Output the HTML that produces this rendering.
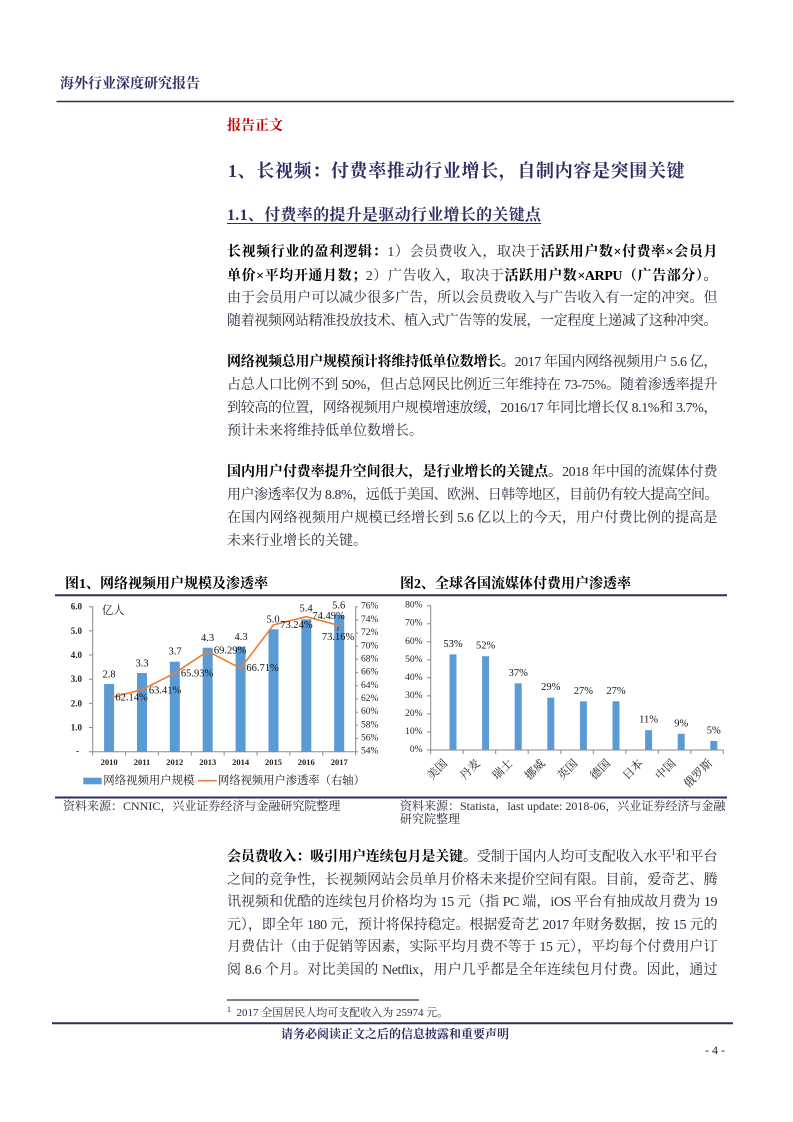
<!DOCTYPE html>
<html><head><meta charset="utf-8">
<style>
html,body{margin:0;padding:0;background:#fff;}
body{width:793px;height:1122px;position:relative;overflow:hidden;font-family:"Liberation Serif","Noto Serif CJK SC",serif;}
.a{position:absolute;white-space:nowrap;}
.ln{position:absolute;left:227px;width:490px;height:20px;line-height:20px;font-size:14px;color:#2b2b3d;white-space:nowrap;text-align:justify;text-align-last:justify;letter-spacing:-0.45px;}
.ln.l{text-align:left;text-align-last:left;letter-spacing:0;}
.ln b{color:#000;font-weight:bold;}
.nv{color:#2e2f62;font-weight:bold;}
sup{font-size:9px;line-height:0;vertical-align:6px;}
svg{position:absolute;left:0;top:0;}
</style></head><body>

<div class="a nv" style="left:60px;top:76px;font-size:14px;line-height:18px;letter-spacing:0px;">海外行业深度研究报告</div>
<div class="a" style="left:227px;top:118px;font-size:14px;line-height:18px;color:#c00000;font-weight:bold;">报告正文</div>
<div class="a nv" style="left:228px;top:160px;font-size:18px;line-height:22px;letter-spacing:0.65px;">1、长视频：付费率推动行业增长，自制内容是突围关键</div>
<div class="a nv" style="left:227px;top:206px;font-size:16px;line-height:20px;letter-spacing:0.3px;text-decoration:underline;text-underline-offset:3px;">1.1、付费率的提升是驱动行业增长的关键点</div>

<div class="ln" style="top:243px;"><b>长视频行业的盈利逻辑：</b>1）会员费收入，取决于<b>活跃用户数×付费率×会员月</b></div>
<div class="ln" style="top:267px;"><b>单价×平均开通月数；</b>2）广告收入，取决于<b>活跃用户数×ARPU（广告部分）。</b></div>
<div class="ln" style="top:289px;">由于会员用户可以减少很多广告，所以会员费收入与广告收入有一定的冲突。但</div>
<div class="ln" style="top:312px;">随着视频网站精准投放技术、植入式广告等的发展，一定程度上递减了这种冲突。</div>

<div class="ln" style="top:353px;"><b>网络视频总用户规模预计将维持低单位数增长。</b>2017 年国内网络视频用户 5.6 亿，</div>
<div class="ln" style="top:376px;">占总人口比例不到 50%，但占总网民比例近三年维持在 73-75%。随着渗透率提升</div>
<div class="ln" style="top:399px;">到较高的位置，网络视频用户规模增速放缓，2016/17 年同比增长仅 8.1%和 3.7%，</div>
<div class="ln l" style="top:422px;">预计未来将维持低单位数增长。</div>

<div class="ln" style="top:463px;"><b>国内用户付费率提升空间很大，是行业增长的关键点。</b>2018 年中国的流媒体付费</div>
<div class="ln" style="top:486px;">用户渗透率仅为 8.8%，远低于美国、欧洲、日韩等地区，目前仍有较大提高空间。</div>
<div class="ln" style="top:509px;">在国内网络视频用户规模已经增长到 5.6 亿以上的今天，用户付费比例的提高是</div>
<div class="ln l" style="top:532px;">未来行业增长的关键。</div>

<div class="a" style="left:65px;top:576px;font-size:14px;line-height:18px;font-weight:bold;color:#000;">图1、网络视频用户规模及渗透率</div>
<div class="a" style="left:400px;top:576px;font-size:14px;line-height:18px;font-weight:bold;color:#000;">图2、全球各国流媒体付费用户渗透率</div>

<div class="a" style="left:63px;top:798px;font-size:12px;line-height:16px;color:#2b2b3d;">资料来源：CNNIC，兴业证券经济与金融研究院整理</div>
<div class="a" style="left:400px;top:798px;font-size:12px;line-height:16px;color:#2b2b3d;">资料来源：Statista，last update: 2018-06，兴业证券经济与金融</div>
<div class="a" style="left:400px;top:811px;font-size:12px;line-height:16px;color:#2b2b3d;">研究院整理</div>

<div class="ln" style="top:848px;"><b>会员费收入：吸引用户连续包月是关键。</b>受制于国内人均可支配收入水平<sup>1</sup>和平台</div>
<div class="ln" style="top:871px;">之间的竞争性，长视频网站会员单月价格未来提价空间有限。目前，爱奇艺、腾</div>
<div class="ln" style="top:893px;">讯视频和优酷的连续包月价格均为 15 元（指 PC 端，iOS 平台有抽成故月费为 19</div>
<div class="ln" style="top:916px;">元），即全年 180 元，预计将保持稳定。根据爱奇艺 2017 年财务数据，按 15 元的</div>
<div class="ln" style="top:938px;">月费估计（由于促销等因素，实际平均月费不等于 15 元），平均每个付费用户订</div>
<div class="ln" style="top:961px;">阅 8.6 个月。对比美国的 Netflix，用户几乎都是全年连续包月付费。因此，通过</div>

<div class="a" style="left:227px;top:1005px;font-size:11px;line-height:16px;color:#2b2b3d;"><sup style="font-size:8px;vertical-align:4px;">1</sup>&nbsp; 2017 全国居民人均可支配收入为 25974 元。</div>

<div class="a nv" style="left:281px;top:1026px;font-size:12px;line-height:16px;">请务必阅读正文之后的信息披露和重要声明</div>
<div class="a" style="left:705px;top:1042px;font-size:12px;line-height:16px;color:#222;">- 4 -</div>

<svg width="793" height="1122" viewBox="0 0 793 1122" xmlns="http://www.w3.org/2000/svg" font-family="Liberation Serif, Noto Serif CJK SC, serif">
  <line x1="56.5" y1="101.5" x2="734" y2="101.5" stroke="#2e2f5e" stroke-width="1.6"/>
  <line x1="55" y1="595.3" x2="727" y2="595.3" stroke="#2e2f5e" stroke-width="2"/>
  <line x1="55" y1="797.5" x2="727" y2="797.5" stroke="#2e2f5e" stroke-width="2"/>
  <line x1="227" y1="1000" x2="419" y2="1000" stroke="#000" stroke-width="1"/>
  <line x1="52" y1="1023.3" x2="733" y2="1023.3" stroke="#2e2f5e" stroke-width="2"/>

  <!-- Chart 1 -->
  <g stroke="#888" stroke-width="1" fill="none">
    <line x1="92.7" y1="606.5" x2="92.7" y2="751.7"/>
    <line x1="355.7" y1="606.5" x2="355.7" y2="751.7"/>
    <line x1="92.7" y1="751.7" x2="355.7" y2="751.7"/>
    <path d="M89 606.7H92.7M89 630.9H92.7M89 655H92.7M89 679.2H92.7M89 703.4H92.7M89 727.5H92.7M89 751.7H92.7"/>
    <path d="M355.7 606.7H358M355.7 619.9H358M355.7 633.1H358M355.7 646.3H358M355.7 659.4H358M355.7 672.6H358M355.7 685.8H358M355.7 699H358M355.7 712.2H358M355.7 725.3H358M355.7 738.5H358M355.7 751.7H358"/>
    <path d="M92.7 751.7V755.5M125.6 751.7V755.5M158.4 751.7V755.5M191.3 751.7V755.5M224.2 751.7V755.5M257.1 751.7V755.5M289.9 751.7V755.5M322.8 751.7V755.5M355.7 751.7V755.5"/>
  </g>
  <g fill="#5b9bd5">
    <rect x="104.1" y="684" width="10" height="67.7"/>
    <rect x="137" y="673" width="10" height="78.7"/>
    <rect x="169.8" y="661.7" width="10" height="90"/>
    <rect x="202.7" y="647.7" width="10" height="104"/>
    <rect x="235.6" y="646.7" width="10" height="105"/>
    <rect x="268.5" y="629.3" width="10" height="122.4"/>
    <rect x="301.3" y="619.3" width="10" height="132.4"/>
    <rect x="334.2" y="615" width="10" height="136.7"/>
  </g>
  <polyline points="109.1,698 142,689.7 174.8,673.1 207.7,651.3 240.6,668.3 273.5,624.9 306.3,616.7 339.2,625.5" fill="none" stroke="#ed7d31" stroke-width="1.6" stroke-linejoin="round"/>
  <line x1="338.5" y1="626.5" x2="337.5" y2="631" stroke="#333" stroke-width="0.8"/>
  <g font-size="9px" font-weight="bold" fill="#222" text-anchor="end" dominant-baseline="central">
    <text x="82" y="606.7">6.0</text><text x="82" y="630.9">5.0</text><text x="82" y="655">4.0</text>
    <text x="82" y="679.2">3.0</text><text x="82" y="703.4">2.0</text><text x="82" y="727.5">1.0</text>
    <text x="79" y="751.2">-</text>
  </g>
  <g font-size="9.5px" fill="#222" dominant-baseline="central">
    <text x="361" y="606.7">76%</text><text x="361" y="619.9">74%</text><text x="361" y="633.1">72%</text>
    <text x="361" y="646.3">70%</text><text x="361" y="659.4">68%</text><text x="361" y="672.6">66%</text>
    <text x="361" y="685.8">64%</text><text x="361" y="699">62%</text><text x="361" y="712.2">60%</text>
    <text x="361" y="725.3">58%</text><text x="361" y="738.5">56%</text><text x="361" y="751.7">54%</text>
  </g>
  <g font-size="8.5px" font-weight="bold" fill="#222" text-anchor="middle" dominant-baseline="central">
    <text x="109.1" y="762">2010</text><text x="142" y="762">2011</text><text x="174.8" y="762">2012</text>
    <text x="207.7" y="762">2013</text><text x="240.6" y="762">2014</text><text x="273.5" y="762">2015</text>
    <text x="306.3" y="762">2016</text><text x="339.2" y="762">2017</text>
  </g>
  <g font-size="10.5px" fill="#111" text-anchor="middle" dominant-baseline="central">
    <text x="109" y="675">2.8</text><text x="142" y="664">3.3</text><text x="175" y="652">3.7</text>
    <text x="207.5" y="638.3">4.3</text><text x="241" y="637.7">4.3</text><text x="273" y="620">5.0</text>
    <text x="306" y="609">5.4</text><text x="338.7" y="606">5.6</text>
    <text x="131.5" y="698">62.14%</text><text x="165" y="691">63.41%</text><text x="197" y="674">65.93%</text>
    <text x="230" y="651">69.29%</text><text x="262.5" y="668.7">66.71%</text><text x="296.4" y="625.7">73.24%</text>
    <text x="328.5" y="616.7">74.49%</text><text x="338" y="637.7">73.16%</text>
  </g>
  <text x="101.7" y="611" font-size="11.5px" fill="#222" dominant-baseline="central">亿人</text>
  <rect x="83.3" y="777.7" width="18.4" height="6.6" fill="#5b9bd5"/>
  <text x="103.3" y="781" font-size="11.4px" fill="#222" dominant-baseline="central">网络视频用户规模</text>
  <line x1="198" y1="780.7" x2="216.7" y2="780.7" stroke="#ed7d31" stroke-width="1.6"/>
  <text x="218" y="781" font-size="11.3px" fill="#222" dominant-baseline="central">网络视频用户渗透率（右轴）</text>

  <!-- Chart 2 -->
  <g stroke="#888" stroke-width="1" fill="none">
    <line x1="430.7" y1="605.5" x2="430.7" y2="750"/>
    <line x1="430.7" y1="750" x2="723.3" y2="750"/>
    <path d="M427 605.7H430.7M427 623.7H430.7M427 641.8H430.7M427 659.8H430.7M427 677.8H430.7M427 695.9H430.7M427 713.9H430.7M427 732H430.7M427 750H430.7"/>
    <path d="M430.7 750V754M463.2 750V754M495.7 750V754M528.2 750V754M560.8 750V754M593.3 750V754M625.8 750V754M658.3 750V754M690.8 750V754M723.3 750V754"/>
  </g>
  <g fill="#5b9bd5">
    <rect x="449.5" y="654.4" width="7" height="95.6"/>
    <rect x="482.1" y="656.2" width="7" height="93.8"/>
    <rect x="514.7" y="683.3" width="7" height="66.7"/>
    <rect x="547.3" y="697.7" width="7" height="52.3"/>
    <rect x="579.9" y="701.3" width="7" height="48.7"/>
    <rect x="612.5" y="701.3" width="7" height="48.7"/>
    <rect x="645.1" y="730.2" width="7" height="19.8"/>
    <rect x="677.7" y="733.8" width="7" height="16.2"/>
    <rect x="710.3" y="741" width="7" height="9"/>
  </g>
  <g font-size="9.5px" fill="#222" text-anchor="end" dominant-baseline="central">
    <text x="422.5" y="605.7">80%</text><text x="422.5" y="623.7">70%</text><text x="422.5" y="641.8">60%</text>
    <text x="422.5" y="659.8">50%</text><text x="422.5" y="677.8">40%</text><text x="422.5" y="695.9">30%</text>
    <text x="422.5" y="713.9">20%</text><text x="422.5" y="732">10%</text><text x="422.5" y="750">0%</text>
  </g>
  <g font-size="10.5px" fill="#111" text-anchor="middle" dominant-baseline="central">
    <text x="453" y="644.4">53%</text><text x="485.6" y="646.2">52%</text><text x="518.2" y="673.3">37%</text>
    <text x="550.8" y="687.7">29%</text><text x="583.4" y="691.3">27%</text><text x="616" y="691.3">27%</text>
    <text x="648.6" y="720.2">11%</text><text x="681.2" y="723.8">9%</text><text x="713.8" y="731">5%</text>
  </g>
  <g font-size="11.5px" fill="#222" text-anchor="end">
    <text transform="translate(448,764) rotate(-45)">美国</text>
    <text transform="translate(480.6,764) rotate(-45)">丹麦</text>
    <text transform="translate(513.2,764) rotate(-45)">瑞士</text>
    <text transform="translate(545.8,764) rotate(-45)">挪威</text>
    <text transform="translate(578.4,764) rotate(-45)">英国</text>
    <text transform="translate(611,764) rotate(-45)">德国</text>
    <text transform="translate(643.6,764) rotate(-45)">日本</text>
    <text transform="translate(676.2,764) rotate(-45)">中国</text>
    <text transform="translate(713,764) rotate(-45)">俄罗斯</text>
  </g>
</svg>
</body></html>
